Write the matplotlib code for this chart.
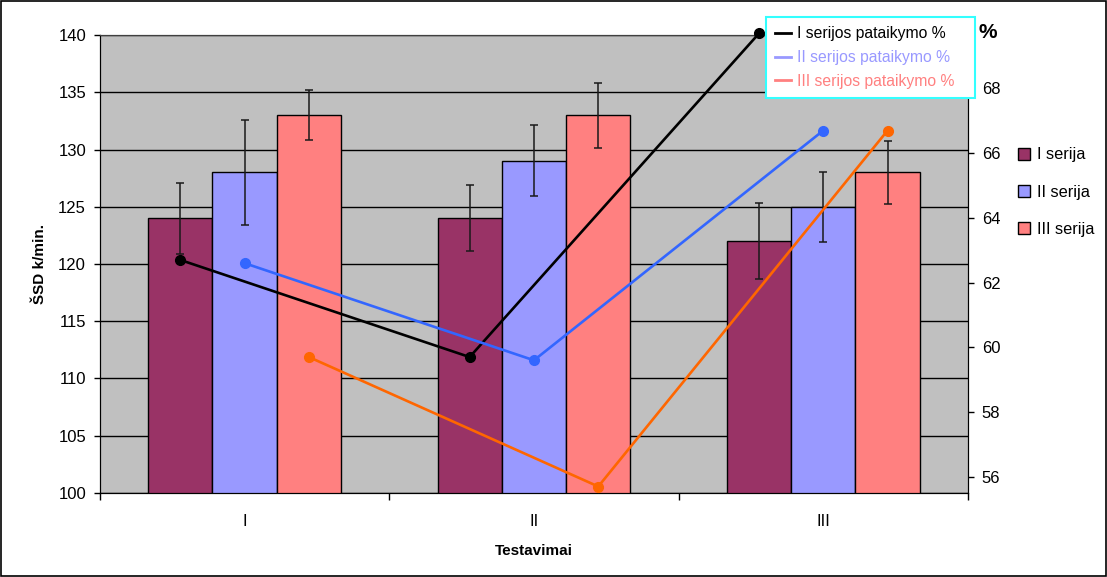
import matplotlib.pyplot as plt
from matplotlib.lines import Line2D
from matplotlib.patches import Patch, Rectangle
import numpy as np

plt.rcParams['font.family'] = ['Liberation Sans', 'DejaVu Sans']

# data
tests = ['I', 'II', 'III']
series = ['I serija', 'II serija', 'III serija']
ssd_I = [124, 124, 122]
ssd_II = [128, 129, 125]
ssd_III = [133, 133, 128]
err_I = [3.1, 2.9, 3.35]
err_II = [4.6, 3.1, 3.05]
err_III = [2.2, 2.85, 2.75]
line_labels = ['I serijos pataikymo %', 'II serijos pataikymo %', 'III serijos pataikymo %']
pct_I = [62.7, 59.7, 69.7]
pct_II = [62.6, 59.6, 66.7]
pct_III = [59.7, 55.7, 66.7]

bar_colors = ['#993366', '#9999FF', '#FF8080']
line_colors = ['#000000', '#3366FF', '#FF6600']

fig = plt.figure(figsize=(11.07, 5.77), dpi=100)
fig.patches.append(Rectangle((0.001, 0.001), 0.998, 0.997, transform=fig.transFigure,
                             fill=False, edgecolor='black', lw=1.2))

ax = fig.add_axes([0.0903, 0.1456, 0.7841, 0.7937])
ax.set_facecolor('#C0C0C0')
x = np.arange(len(tests))
w = 2 / 9
offs = [-w, 0, w]

for j, (vals, errs) in enumerate(zip([ssd_I, ssd_II, ssd_III], [err_I, err_II, err_III])):
    ax.bar(x + offs[j], vals, w, color=bar_colors[j], edgecolor='black', lw=1,
           yerr=errs, capsize=3.2,
           error_kw=dict(elinewidth=1.1, ecolor='#1a1a1a', capthick=1.1), zorder=2)

ax.set_xlim(-0.5, 2.5)
ax.set_ylim(100, 140)
ax.set_yticks(range(100, 141, 5))
ax.yaxis.grid(True, color='black', lw=1)
ax.set_axisbelow(True)
ax.set_xticks(x)
ax.set_xticklabels(tests)
ax.set_xticks([-0.5, 0.5, 1.5, 2.5], minor=True)
ax.tick_params(axis='x', which='major', length=0, pad=15, labelsize=12)
ax.tick_params(axis='x', which='minor', length=5, direction='out', width=1)
ax.tick_params(axis='y', length=4, direction='out', width=1, labelsize=12, pad=6)
ax.set_ylabel('ŠSD k/min.', fontweight='bold', fontsize=11, labelpad=8)
ax.set_xlabel('Testavimai', fontweight='bold', fontsize=11, labelpad=11)
for s in ax.spines.values():
    s.set_color('black')
ax.spines['top'].set_color('#404040')

ax2 = ax.twinx()
for j, pct in enumerate([pct_I, pct_II, pct_III]):
    ax2.plot(x + offs[j], pct, color=line_colors[j], lw=1.9, marker='o', ms=7,
             clip_on=False, zorder=5)
ax2.set_ylim(55.5, 69.65)
ax2.set_yticks(range(56, 69, 2))
ax2.tick_params(axis='y', length=4, direction='out', width=1, labelsize=12, pad=6)
for s in ax2.spines.values():
    s.set_color('black')
ax2.spines['top'].set_color('#404040')

fig.text(0.8835, 0.943, '%', fontsize=15, fontweight='bold', va='center', ha='left')

# line legend (handles shown in the bar colours, as in the original)
line_handles = [Line2D([], [], color=c, lw=2) for c in ['black', '#9999FF', '#FF8080']]
leg1 = fig.legend(line_handles, line_labels, loc='upper left',
                  bbox_to_anchor=(0.692, 0.8267, 0.189, 0.1438), mode='expand',
                  fontsize=11.3, frameon=True,
                  fancybox=False, edgecolor='#33FFFF', framealpha=1,
                  handlelength=1.0, handletextpad=0.4, labelspacing=0.55,
                  borderpad=0.6, borderaxespad=0)
leg1.get_frame().set_linewidth(1.5)
for t, c in zip(leg1.get_texts(), ['black', '#9999FF', '#FF8080']):
    t.set_color(c)

bar_handles = [Patch(facecolor=c, edgecolor='black', lw=1) for c in bar_colors]
fig.legend(bar_handles, series, loc='upper left', bbox_to_anchor=(0.906, 0.77),
           fontsize=11.8, frameon=False, handlelength=0.75, handleheight=0.75,
           handletextpad=0.4, labelspacing=1.35)

fig.savefig('out.png', dpi=100)
